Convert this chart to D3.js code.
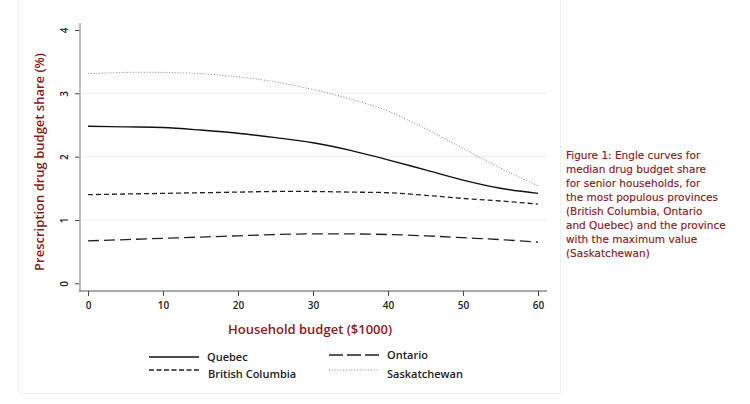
<!DOCTYPE html>
<html>
<head>
<meta charset="utf-8">
<script src="https://cdn.jsdelivr.net/npm/d3@7"></script>
<style>
  body { margin: 0; background: #fff; }
  svg { display: block; }
</style>
</head>
<body>
<div class="graph"></div>
<script>
const budget = [0, 5, 10, 15, 20, 25, 30, 35, 40, 45, 50, 55, 60];
const quebec = [2.48, 2.47, 2.46, 2.42, 2.37, 2.30, 2.22, 2.10, 1.95, 1.79, 1.63, 1.50, 1.42];
const britishColumbia = [1.40, 1.41, 1.42, 1.43, 1.44, 1.45, 1.45, 1.44, 1.43, 1.39, 1.34, 1.30, 1.25];
const ontario = [0.67, 0.69, 0.71, 0.73, 0.75, 0.77, 0.78, 0.78, 0.77, 0.75, 0.72, 0.69, 0.65];
const saskatchewan = [3.31, 3.33, 3.33, 3.31, 3.26, 3.18, 3.06, 2.91, 2.72, 2.44, 2.13, 1.82, 1.54];
const xTicks = [0, 10, 20, 30, 40, 50, 60];
const yTicks = [0, 1, 2, 3, 4];
const captionLines = [
    'Figure 1: Engle curves for',
    'median drug budget share',
    'for senior households, for',
    'the most populous provinces',
    '(British Columbia, Ontario',
    'and Quebec) and the province',
    'with the maximum value',
    '(Saskatchewan)'
];

const series = [
    { name: 'Quebec', values: quebec, color: '#111', width: 1.4, dash: null, legendDash: null },
    { name: 'British Columbia', values: britishColumbia, color: '#222', width: 1.3, dash: '5,3', legendDash: '5,2.5' },
    { name: 'Ontario', values: ontario, color: '#222', width: 1.3, dash: '11,5', legendDash: '14,4' },
    { name: 'Saskatchewan', values: saskatchewan, color: '#8a8a8a', width: 1, dash: '1,1.8', legendDash: '1,1.8' }
];

const red = '#8b1a1a';
const font = "'Open Sans', sans-serif";

const svg = d3.select('.graph')
    .append('svg')
    .attr('width', 750)
    .attr('height', 404);

// faint frame round the chart panel
svg.append('path')
    .attr('d', 'M18.5,0 V393.5 H560.5 V0')
    .attr('fill', 'none')
    .attr('stroke', '#eef3f3')
    .attr('stroke-width', 1);

const x = d3.scaleLinear().domain([0, 60]).range([88, 538]);
const y = d3.scaleLinear().domain([0, 4]).range([283.3, 30]);

// gridlines
svg.selectAll('.grid')
    .data([1, 2, 3])
    .enter()
    .append('line')
    .attr('x1', 81)
    .attr('x2', 547)
    .attr('y1', d => y(d))
    .attr('y2', d => y(d))
    .attr('stroke', '#eaf1f1')
    .attr('stroke-width', 1);

// y axis, labels turned on their side
const yAxis = svg.append('g')
    .attr('transform', 'translate(80,0)')
    .call(d3.axisLeft(y).tickValues(yTicks).tickSize(5).tickFormat(d3.format('d')));
yAxis.select('.domain').remove();
yAxis.selectAll('line').attr('stroke', '#444');
yAxis.selectAll('.tick text').remove();
yAxis.selectAll('.tick')
    .append('text')
    .attr('transform', 'translate(-12,0) rotate(-90)')
    .attr('text-anchor', 'middle')
    .attr('fill', '#222')
    .attr('font-family', font)
    .attr('font-weight', 600)
    .attr('font-size', 10)
    .text(d => d);

svg.append('line')
    .attr('x1', 80).attr('x2', 80)
    .attr('y1', 23).attr('y2', 291)
    .attr('stroke', '#aaa')
    .attr('stroke-width', 1.5);

// x axis
const xAxis = svg.append('g')
    .attr('transform', 'translate(0,291)')
    .call(d3.axisBottom(x).tickValues(xTicks).tickSize(5).tickSizeOuter(0));
xAxis.select('.domain').remove();
xAxis.selectAll('line').attr('stroke', '#444');
xAxis.selectAll('text')
    .attr('fill', '#222')
    .attr('font-family', font)
    .attr('font-weight', 600)
    .attr('font-size', 10)
    .attr('dy', '0.95em');

svg.append('line')
    .attr('x1', 79).attr('x2', 547)
    .attr('y1', 291).attr('y2', 291)
    .attr('stroke', '#555')
    .attr('stroke-width', 1.2);

// axis titles
svg.append('text')
    .attr('transform', 'translate(44,162) rotate(-90)')
    .attr('text-anchor', 'middle')
    .attr('fill', red)
    .attr('font-family', font)
    .attr('font-weight', 600)
    .attr('font-size', 13)
    .text('Prescription drug budget share (%)');

svg.append('text')
    .attr('x', 310)
    .attr('y', 334)
    .attr('text-anchor', 'middle')
    .attr('fill', red)
    .attr('font-family', font)
    .attr('font-weight', 600)
    .attr('font-size', 13)
    .text('Household budget ($1000)');

// curves
const line = d3.line()
    .x((d, i) => x(budget[i]))
    .y(d => y(d))
    .curve(d3.curveCatmullRom.alpha(0.5));

svg.selectAll('.curve')
    .data(series)
    .enter()
    .append('path')
    .attr('d', d => line(d.values))
    .attr('fill', 'none')
    .attr('stroke', d => d.color)
    .attr('stroke-width', d => d.width)
    .attr('stroke-dasharray', d => d.dash);

// legend
const legendPos = [
    { lx: 149, ly: 357, tx: 207 },
    { lx: 149, ly: 370, tx: 208 },
    { lx: 329, ly: 355, tx: 387 },
    { lx: 329, ly: 370, tx: 387 }
];
const legend = svg.selectAll('.legend')
    .data(series)
    .enter()
    .append('g')
    .attr('transform', (d, i) => `translate(${legendPos[i].lx},${legendPos[i].ly})`);

legend.append('line')
    .attr('x1', 0).attr('x2', 50)
    .attr('stroke', d => d.color)
    .attr('stroke-width', d => d.width)
    .attr('stroke-dasharray', d => d.legendDash);

legend.append('text')
    .attr('x', (d, i) => legendPos[i].tx - legendPos[i].lx)
    .attr('y', (d, i) => i % 2 ? 4 : 0)
    .attr('dy', '0.35em')
    .attr('fill', '#222')
    .attr('font-family', font)
    .attr('font-weight', 600)
    .attr('font-size', 11)
    .text(d => d.name);

// caption
svg.append('g')
    .selectAll('text')
    .data(captionLines)
    .enter()
    .append('text')
    .attr('x', 566)
    .attr('y', (d, i) => 159 + i * 14)
    .attr('fill', red)
    .attr('stroke', red)
    .attr('stroke-width', 0.15)
    .attr('font-family', "'DejaVu Sans', sans-serif")
    .attr('font-size', 10.5)
    .text(d => d);
</script>
</body>
</html>
